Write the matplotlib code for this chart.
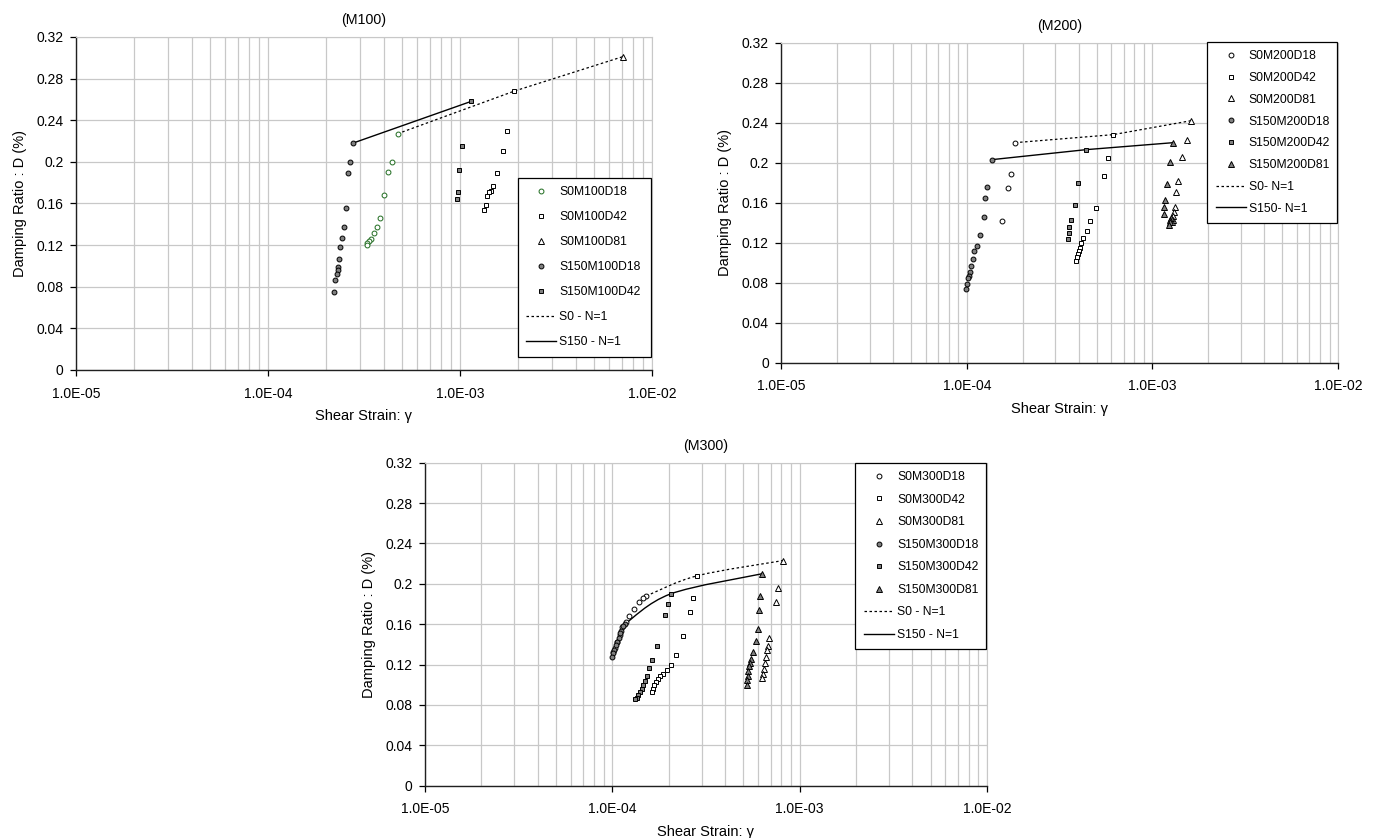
"""Damping ratio vs shear strain for M100, M200 and M300 mixes."""

import matplotlib

matplotlib.use("Agg")
import matplotlib.pyplot as plt
import numpy as np
from matplotlib.lines import Line2D
from matplotlib.patches import PathPatch
from matplotlib.path import Path
from matplotlib.ticker import LogLocator, NullFormatter

plt.rcParams["font.family"] = ["Liberation Sans", "DejaVu Sans"]

# axis ticks
x_tick_values = [1e-5, 1e-4, 1e-3, 1e-2]
x_tick_labels = ["1.0E-05", "1.0E-04", "1.0E-03", "1.0E-02"]
y_tick_values = [0, 0.04, 0.08, 0.12, 0.16, 0.2, 0.24, 0.28, 0.32]
y_tick_labels = ["0", "0.04", "0.08", "0.12", "0.16", "0.2", "0.24", "0.28", "0.32"]

# ---- M100 ----
m100_s0_d18_x = [4.73e-4, 4.41e-4, 4.22e-4, 4.04e-4, 3.85e-4, 3.71e-4, 3.58e-4, 3.43e-4, 3.36e-4, 3.29e-4, 3.27e-4]
m100_s0_d18_y = [0.227, 0.200, 0.190, 0.168, 0.146, 0.137, 0.132, 0.126, 0.124, 0.122, 0.120]
m100_s0_d42_x = [1.92e-3, 1.76e-3, 1.67e-3, 1.55e-3, 1.48e-3, 1.45e-3, 1.41e-3, 1.39e-3, 1.37e-3, 1.34e-3]
m100_s0_d42_y = [0.268, 0.230, 0.210, 0.189, 0.177, 0.172, 0.171, 0.167, 0.159, 0.154]
m100_s0_d81_x = [7.03e-3]
m100_s0_d81_y = [0.301]
m100_s150_d18_x = [2.77e-4, 2.67e-4, 2.62e-4, 2.55e-4, 2.49e-4, 2.42e-4, 2.38e-4, 2.35e-4, 2.32e-4, 2.31e-4, 2.28e-4, 2.24e-4, 2.22e-4]
m100_s150_d18_y = [0.218, 0.200, 0.189, 0.156, 0.137, 0.127, 0.118, 0.107, 0.099, 0.096, 0.092, 0.086, 0.075]
m100_s150_d42_x = [1.14e-3, 1.023e-3, 9.89e-4, 9.77e-4, 9.69e-4]
m100_s150_d42_y = [0.258, 0.215, 0.192, 0.171, 0.164]
m100_s0_line_x = [4.73e-4, 1.92e-3, 7.03e-3]
m100_s0_line_y = [0.227, 0.268, 0.301]
m100_s150_line_x = [2.77e-4, 1.14e-3]
m100_s150_line_y = [0.218, 0.258]

# ---- M200 ----
m200_s0_d18_x = [1.818e-4, 1.722e-4, 1.66e-4, 1.553e-4]
m200_s0_d18_y = [0.220, 0.189, 0.175, 0.142]
m200_s0_d42_x = [6.13e-4, 5.74e-4, 5.48e-4, 4.94e-4, 4.62e-4, 4.42e-4, 4.24e-4, 4.13e-4, 4.06e-4, 4.01e-4, 3.96e-4, 3.91e-4, 3.88e-4]
m200_s0_d42_y = [0.228, 0.205, 0.187, 0.155, 0.142, 0.132, 0.125, 0.120, 0.115, 0.112, 0.109, 0.106, 0.102]
m200_s0_d81_x = [1.618e-3, 1.527e-3, 1.442e-3, 1.365e-3, 1.342e-3, 1.315e-3, 1.304e-3, 1.294e-3, 1.283e-3, 1.267e-3]
m200_s0_d81_y = [0.242, 0.223, 0.206, 0.182, 0.171, 0.156, 0.151, 0.147, 0.143, 0.141]
m200_s150_d18_x = [1.36e-4, 1.278e-4, 1.251e-4, 1.231e-4, 1.171e-4, 1.137e-4, 1.096e-4, 1.077e-4, 1.047e-4, 1.038e-4, 1.025e-4, 1.009e-4, 9.96e-5, 9.88e-5]
m200_s150_d18_y = [0.203, 0.176, 0.165, 0.146, 0.128, 0.117, 0.112, 0.104, 0.097, 0.091, 0.087, 0.085, 0.079, 0.074]
m200_s150_d42_x = [4.38e-4, 3.95e-4, 3.81e-4, 3.64e-4, 3.56e-4, 3.53e-4, 3.51e-4]
m200_s150_d42_y = [0.213, 0.180, 0.158, 0.143, 0.136, 0.130, 0.124]
m200_s150_d81_x = [1.294e-3, 1.247e-3, 1.2e-3, 1.166e-3, 1.156e-3, 1.147e-3, 1.262e-3, 1.25e-3, 1.24e-3, 1.23e-3]
m200_s150_d81_y = [0.220, 0.201, 0.179, 0.163, 0.156, 0.149, 0.145, 0.143, 0.141, 0.138]
m200_s0_line_x = [1.818e-4, 6.13e-4, 1.618e-3]
m200_s0_line_y = [0.220, 0.228, 0.242]
m200_s150_line_x = [1.36e-4, 4.38e-4, 1.294e-3]
m200_s150_line_y = [0.203, 0.213, 0.220]

# ---- M300 ----
m300_s0_d18_x = [1.518e-4, 1.456e-4, 1.393e-4, 1.299e-4, 1.221e-4, 1.182e-4, 1.13e-4, 1.093e-4, 1.058e-4, 1.028e-4, 1.007e-4]
m300_s0_d18_y = [0.188, 0.186, 0.182, 0.175, 0.168, 0.162, 0.157, 0.149, 0.142, 0.136, 0.132]
m300_s0_d42_x = [2.84e-4, 2.70e-4, 2.59e-4, 2.388e-4, 2.20e-4, 2.06e-4, 1.954e-4, 1.867e-4, 1.806e-4, 1.748e-4, 1.714e-4, 1.679e-4, 1.645e-4, 1.625e-4]
m300_s0_d42_y = [0.208, 0.186, 0.172, 0.148, 0.130, 0.120, 0.115, 0.111, 0.109, 0.106, 0.103, 0.100, 0.096, 0.093]
m300_s0_d81_x = [8.11e-4, 7.69e-4, 7.44e-4, 6.83e-4, 6.74e-4, 6.66e-4, 6.58e-4, 6.53e-4, 6.45e-4, 6.37e-4, 6.30e-4]
m300_s0_d81_y = [0.223, 0.196, 0.182, 0.146, 0.138, 0.134, 0.128, 0.122, 0.116, 0.111, 0.107]
m300_s150_d18_x = [1.163e-4, 1.143e-4, 1.115e-4, 1.103e-4, 1.081e-4, 1.063e-4, 1.041e-4, 1.02e-4, 1.007e-4, 9.95e-5]
m300_s150_d18_y = [0.160, 0.158, 0.153, 0.151, 0.146, 0.142, 0.139, 0.134, 0.131, 0.128]
m300_s150_d42_x = [2.045e-4, 1.979e-4, 1.90e-4, 1.729e-4, 1.633e-4, 1.568e-4, 1.53e-4, 1.493e-4, 1.462e-4, 1.432e-4, 1.403e-4, 1.376e-4, 1.349e-4, 1.326e-4]
m300_s150_d42_y = [0.190, 0.180, 0.169, 0.138, 0.125, 0.117, 0.109, 0.104, 0.100, 0.096, 0.093, 0.090, 0.087, 0.086]
m300_s150_d81_x = [6.30e-4, 6.17e-4, 6.09e-4, 6.0e-4, 5.88e-4, 5.66e-4, 5.5e-4, 5.43e-4, 5.37e-4, 5.31e-4, 5.28e-4, 5.24e-4, 5.24e-4]
m300_s150_d81_y = [0.210, 0.188, 0.174, 0.155, 0.143, 0.132, 0.126, 0.122, 0.119, 0.114, 0.109, 0.105, 0.100]
m300_s0_line_x = [1.518e-4, 2.84e-4, 8.11e-4]
m300_s0_line_y = [0.188, 0.208, 0.223]
m300_s150_line_x = [1.163e-4, 2.045e-4, 6.30e-4]
m300_s150_line_y = [0.160, 0.190, 0.210]

GRID = "#c8c8c8"
GRAY_FILL = "#808080"
DOTTED = (0, (2, 2))

# marker styles: (marker, size, face, edge)
STYLE = {
    "s0_d18": ("o", 3.5, "white", "black"),
    "s0_d42": ("s", 3.3, "white", "black"),
    "s0_d81": ("^", 3.9, "white", "black"),
    "s150_d18": ("o", 3.5, GRAY_FILL, "black"),
    "s150_d42": ("s", 3.3, GRAY_FILL, "black"),
    "s150_d81": ("^", 3.9, GRAY_FILL, "black"),
}


def style_axes(ax, title, xpad=6, ypad=7):
    ax.set_xscale("log")
    ax.set_xlim(1e-5, 1e-2)
    ax.set_ylim(0, 0.32)
    ax.set_xticks(x_tick_values)
    ax.set_xticklabels(x_tick_labels)
    ax.xaxis.set_minor_locator(LogLocator(base=10, subs=np.arange(2, 10)))
    ax.xaxis.set_minor_formatter(NullFormatter())
    ax.set_yticks(y_tick_values)
    ax.set_yticklabels(y_tick_labels)
    ax.grid(True, which="both", axis="x", color=GRID, lw=0.9)
    ax.grid(True, which="major", axis="y", color=GRID, lw=0.9)
    ax.set_axisbelow(True)
    ax.tick_params(which="minor", length=0)
    ax.tick_params(which="major", direction="out", length=4, width=0.9, labelsize=10)
    ax.tick_params(axis="x", pad=8)
    ax.tick_params(axis="y", pad=5)
    for side in ("top", "right"):
        ax.spines[side].set_color(GRID)
    for side in ("left", "bottom"):
        ax.spines[side].set_color("#202020")
        ax.spines[side].set_linewidth(1.0)
    ax.set_title(title, fontsize=10.3, pad=9)
    ax.set_xlabel("Shear Strain: γ", fontsize=10.5, labelpad=xpad)
    ax.set_ylabel("Damping Ratio : D (%)", fontsize=10.5, labelpad=ypad)


def scatter(ax, x, y, key, edge=None):
    marker, size, face, ec = STYLE[key]
    (h,) = ax.plot(x, y, ls="none", marker=marker, ms=size, mfc=face,
                   mec=edge or ec, mew=0.7, zorder=4)
    return h


def smooth_path(xs, ys):
    # Catmull-Rom to Bezier in (log x, y) space, like a smoothed Excel line
    pts = np.column_stack([np.log10(xs), ys])
    n = len(pts)
    verts = [pts[0]]
    codes = [Path.MOVETO]
    for i in range(n - 1):
        p0, p1 = pts[max(i - 1, 0)], pts[i]
        p2, p3 = pts[i + 1], pts[min(i + 2, n - 1)]
        verts += [p1 + (p2 - p0) / 6, p2 - (p3 - p1) / 6, p2]
        codes += [Path.CURVE4] * 3
    verts = np.array(verts)
    verts[:, 0] = 10 ** verts[:, 0]
    return Path(verts, codes)


def add_legend(ax, handles, labels, box, spacing):
    leg = ax.legend(handles, labels, loc="upper left", bbox_to_anchor=box,
                    mode="expand", fontsize=8.7, frameon=True, fancybox=False,
                    edgecolor="black", framealpha=1, borderpad=0.7,
                    labelspacing=spacing, handlelength=2.5, handletextpad=0.25,
                    borderaxespad=0, numpoints=1)
    leg.get_frame().set_linewidth(0.9)
    leg.set_zorder(10)


fig = plt.figure(figsize=(13.79, 8.38), dpi=100)
ax1 = fig.add_axes([0.0551, 0.5585, 0.4177, 0.3974])
ax2 = fig.add_axes([0.5666, 0.5672, 0.4037, 0.3819])
ax3 = fig.add_axes([0.3082, 0.0624, 0.4075, 0.3854])

# M100
style_axes(ax1, "(M100)")
l0, = ax1.plot(m100_s0_line_x, m100_s0_line_y, color="black", ls=DOTTED, lw=0.9, zorder=3)
l1, = ax1.plot(m100_s150_line_x, m100_s150_line_y, color="black", lw=1.0, zorder=3)
h = [
    scatter(ax1, m100_s0_d18_x, m100_s0_d18_y, "s0_d18", edge="#1f6b1f"),
    scatter(ax1, m100_s0_d42_x, m100_s0_d42_y, "s0_d42"),
    scatter(ax1, m100_s0_d81_x, m100_s0_d81_y, "s0_d81"),
    scatter(ax1, m100_s150_d18_x, m100_s150_d18_y, "s150_d18"),
    scatter(ax1, m100_s150_d42_x, m100_s150_d42_y, "s150_d42"),
    l0, l1,
]
add_legend(ax1, h, ["S0M100D18", "S0M100D42", "S0M100D81", "S150M100D18",
                    "S150M100D42", "S0 - N=1", "S150 - N=1"],
           (0.767, 0.5775, 0.231, 0), 1.08)

# M200
style_axes(ax2, "(M200)")
l0, = ax2.plot(m200_s0_line_x, m200_s0_line_y, color="black", ls=DOTTED, lw=0.9, zorder=3)
l1, = ax2.plot(m200_s150_line_x, m200_s150_line_y, color="black", lw=1.0, zorder=3)
h = [
    scatter(ax2, m200_s0_d18_x, m200_s0_d18_y, "s0_d18"),
    scatter(ax2, m200_s0_d42_x, m200_s0_d42_y, "s0_d42"),
    scatter(ax2, m200_s0_d81_x, m200_s0_d81_y, "s0_d81"),
    scatter(ax2, m200_s150_d18_x, m200_s150_d18_y, "s150_d18"),
    scatter(ax2, m200_s150_d42_x, m200_s150_d42_y, "s150_d42"),
    scatter(ax2, m200_s150_d81_x, m200_s150_d81_y, "s150_d81"),
    l0, l1,
]
add_legend(ax2, h, ["S0M200D18", "S0M200D42", "S0M200D81", "S150M200D18",
                    "S150M200D42", "S150M200D81", "S0- N=1", "S150- N=1"],
           (0.7647, 1.003, 0.2335, 0), 0.81)

# M300 (smoothed lines)
style_axes(ax3, "(M300)")
ax3.add_patch(PathPatch(smooth_path(m300_s0_line_x, m300_s0_line_y), fill=False,
                        ec="black", ls=DOTTED, lw=0.9, zorder=3))
ax3.add_patch(PathPatch(smooth_path(m300_s150_line_x, m300_s150_line_y), fill=False,
                        ec="black", lw=1.0, zorder=3))
h = [
    scatter(ax3, m300_s0_d18_x, m300_s0_d18_y, "s0_d18"),
    scatter(ax3, m300_s0_d42_x, m300_s0_d42_y, "s0_d42"),
    scatter(ax3, m300_s0_d81_x, m300_s0_d81_y, "s0_d81"),
    scatter(ax3, m300_s150_d18_x, m300_s150_d18_y, "s150_d18"),
    scatter(ax3, m300_s150_d42_x, m300_s150_d42_y, "s150_d42"),
    scatter(ax3, m300_s150_d81_x, m300_s150_d81_y, "s150_d81"),
    Line2D([], [], color="black", ls=DOTTED, lw=0.9),
    Line2D([], [], color="black", lw=1.0),
]
add_legend(ax3, h, ["S0M300D18", "S0M300D42", "S0M300D81", "S150M300D18",
                    "S150M300D42", "S150M300D81", "S0 - N=1", "S150 - N=1"],
           (0.7657, 1.0, 0.232, 0), 0.87)

fig.savefig("out.png", dpi=100)
plt.close(fig)
